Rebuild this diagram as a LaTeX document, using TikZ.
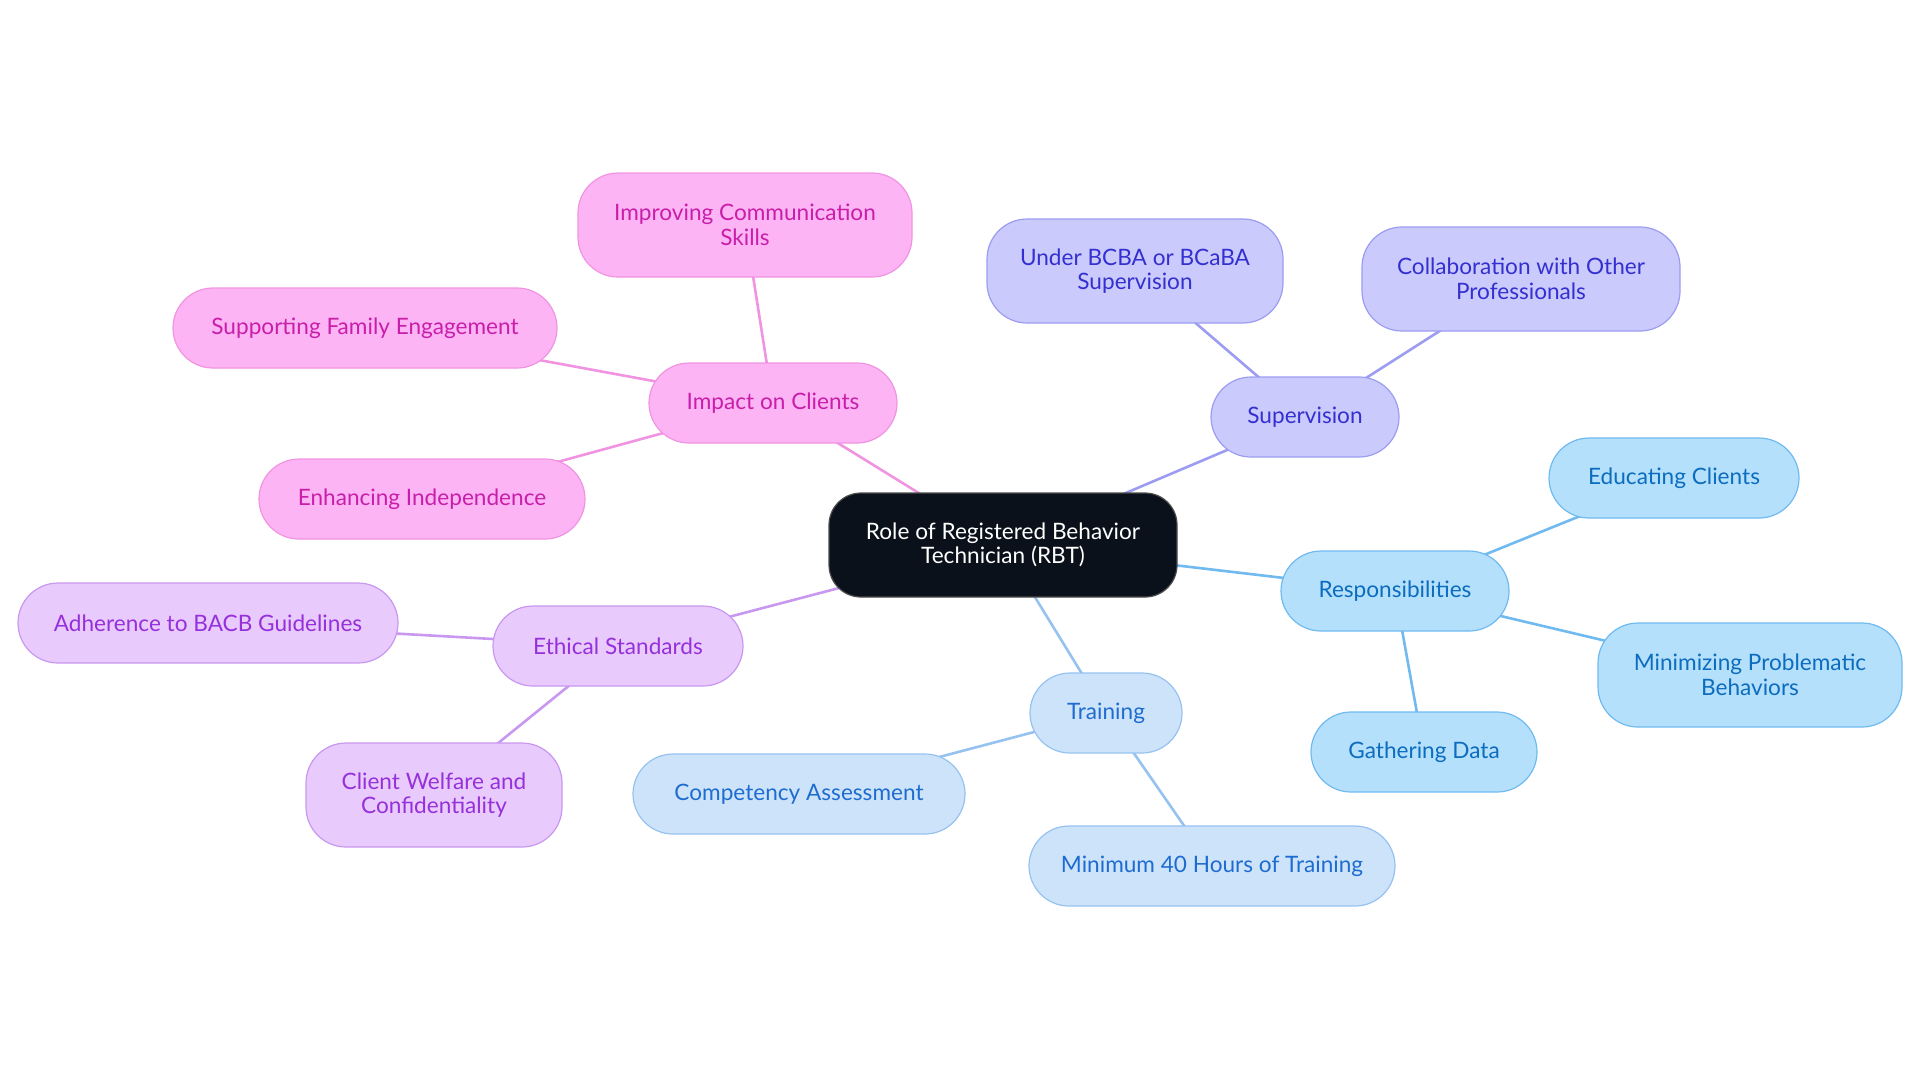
\documentclass[tikz,border=0pt]{standalone}
\usepackage{fontspec}
\setmainfont{Lato}
\usetikzlibrary{backgrounds}
\definecolor{rootfill}{RGB}{11,17,26}
\definecolor{pinkfill}{RGB}{253,180,244}
\definecolor{pinkline}{RGB}{240,148,226}
\definecolor{pinktext}{RGB}{200,30,170}
\definecolor{lilafill}{RGB}{232,202,252}
\definecolor{lilaline}{RGB}{200,152,240}
\definecolor{lilatext}{RGB}{150,48,218}
\definecolor{supfill}{RGB}{202,202,252}
\definecolor{supline}{RGB}{156,156,242}
\definecolor{suptext}{RGB}{52,48,208}
\definecolor{resfill}{RGB}{180,224,252}
\definecolor{resline}{RGB}{112,186,240}
\definecolor{restext}{RGB}{12,108,190}
\definecolor{trafill}{RGB}{205,227,250}
\definecolor{traline}{RGB}{150,194,240}
\definecolor{tratext}{RGB}{30,108,208}
\begin{document}
\begin{tikzpicture}[x=0.5pt, y=-0.5pt,
    topic/.style={draw, rectangle, rounded corners=20pt, minimum height=40pt, align=center,
        line width=0.6pt, inner sep=2pt, font=\fontsize{11.3}{12.25}\selectfont},
    root/.style={topic, fill=rootfill, draw=black!70, text=white, rounded corners=16pt, minimum height=52pt},
    two/.style={minimum height=52pt},
    pink/.style={topic, fill=pinkfill, draw=pinkline, text=pinktext},
    lila/.style={topic, fill=lilafill, draw=lilaline, text=lilatext},
    sup/.style={topic, fill=supfill, draw=supline, text=suptext},
    res/.style={topic, fill=resfill, draw=resline, text=restext},
    tra/.style={topic, fill=trafill, draw=traline, text=tratext},
    link/.style={line width=1.3pt}]
    \useasboundingbox (0,0) rectangle (1920,1083);

    % Root
    \node[root, minimum width=174pt] (rbt) at (1003,545) {Role of Registered Behavior\\Technician (RBT)};

    % Impact on clients
    \node[pink, minimum width=124pt] (imp) at (773,403) {Impact on Clients};
    \node[pink, two, minimum width=167pt] (imp1) at (745,225) {Improving Communication\\Skills};
    \node[pink, minimum width=192pt] (imp2) at (365,328) {Supporting Family Engagement};
    \node[pink, minimum width=163pt] (imp3) at (422,499) {Enhancing Independence};

    % Ethical standards
    \node[lila, minimum width=125pt] (eth) at (618,646) {Ethical Standards};
    \node[lila, minimum width=190pt] (eth1) at (208,623) {Adherence to BACB Guidelines};
    \node[lila, two, minimum width=128pt] (eth2) at (434,795) {Client Welfare and\\Confidentiality};

    % Training
    \node[tra, minimum width=76pt] (tra) at (1106,713) {Training};
    \node[tra, minimum width=166pt] (tra1) at (799,794) {Competency Assessment};
    \node[tra, minimum width=183pt] (tra2) at (1212,866) {Minimum 40 Hours of Training};

    % Responsibilities
    \node[res, minimum width=114pt] (res) at (1395,591) {Responsibilities};
    \node[res, minimum width=125pt] (res1) at (1674,478) {Educating Clients};
    \node[res, two, minimum width=152pt] (res2) at (1750,675) {Minimizing Problematic\\Behaviors};
    \node[res, minimum width=113pt] (res3) at (1424,752) {Gathering Data};

    % Supervision
    \node[sup, minimum width=94pt] (sup) at (1305,417) {Supervision};
    \node[sup, two, minimum width=148pt] (sup1) at (1135,271) {Under BCBA or BCaBA\\Supervision};
    \node[sup, two, minimum width=159pt] (sup2) at (1521,279) {Collaboration with Other\\Professionals};

    % Links, centre to centre behind the boxes
    \begin{scope}[on background layer]
    \draw[link, pinkline] (rbt.center) -- (imp.center);
    \draw[link, pinkline] (imp.center) -- (imp1.center);
    \draw[link, pinkline] (imp.center) -- (imp2.center);
    \draw[link, pinkline] (imp.center) -- (imp3.center);
    \draw[link, lilaline] (rbt.center) -- (eth.center);
    \draw[link, lilaline] (eth.center) -- (eth1.center);
    \draw[link, lilaline] (eth.center) -- (eth2.center);
    \draw[link, traline] (rbt.center) -- (tra.center);
    \draw[link, traline] (tra.center) -- (tra1.center);
    \draw[link, traline] (tra.center) -- (tra2.center);
    \draw[link, resline] (rbt.center) -- (res.center);
    \draw[link, resline] (res.center) -- (res1.center);
    \draw[link, resline] (res.center) -- (res2.center);
    \draw[link, resline] (res.center) -- (res3.center);
    \draw[link, supline] (rbt.center) -- (sup.center);
    \draw[link, supline] (sup.center) -- (sup1.center);
    \draw[link, supline] (sup.center) -- (sup2.center);
    \end{scope}
\end{tikzpicture}
\end{document}
